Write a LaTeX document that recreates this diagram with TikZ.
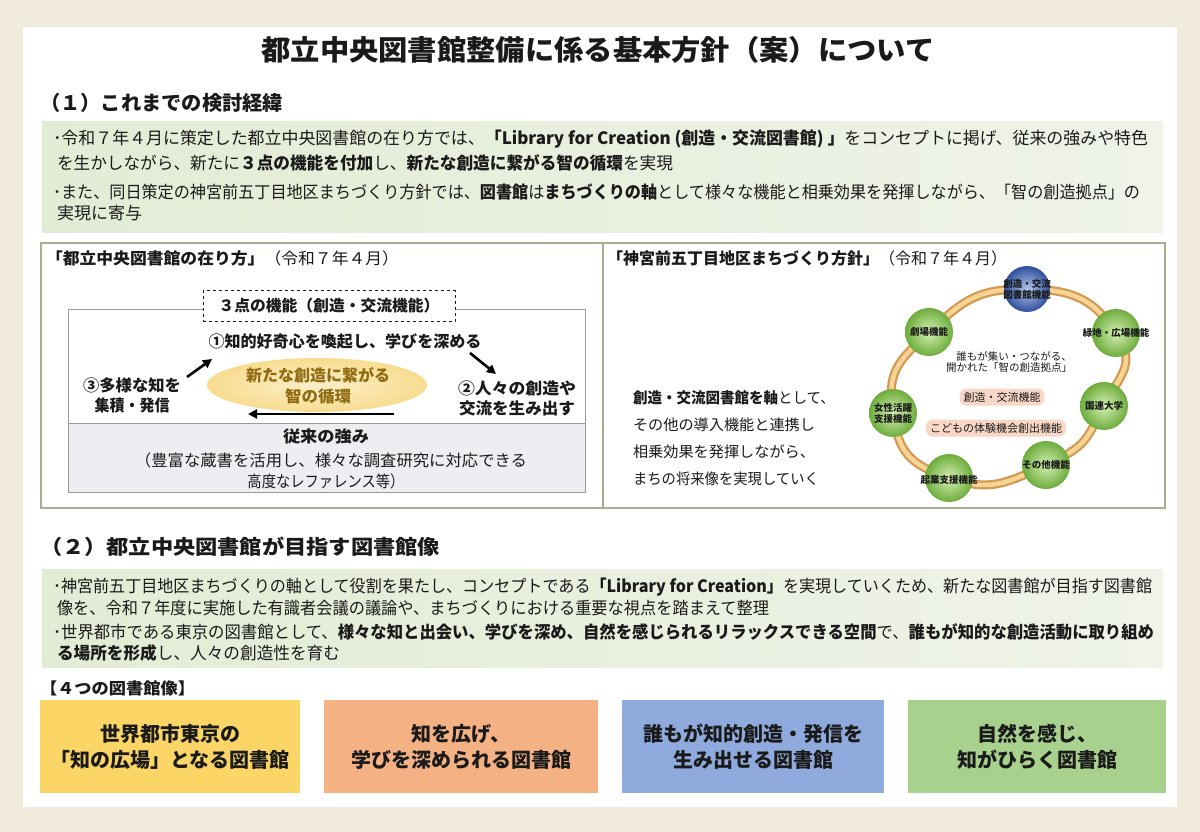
\documentclass[tikz,border=0pt]{standalone}
\usepackage{fontspec}
\setmainfont{Noto Sans CJK JP}
\usepackage{graphicx}
\usetikzlibrary{arrows.meta,calc}

\definecolor{bgbeige}{HTML}{F0EBDD}
\definecolor{boxgreenL}{HTML}{E2ECD5}
\definecolor{boxgreenR}{HTML}{EFF3E8}
\definecolor{panelborder}{HTML}{A9AC8E}
\definecolor{innerborder}{HTML}{9A9A9A}
\definecolor{lowerfill}{HTML}{EEEDF2}
\definecolor{txt}{HTML}{1A1A1A}
\definecolor{gold}{HTML}{8F6C12}
\definecolor{glow}{HTML}{F4C64A}
\definecolor{ringdark}{HTML}{D39A55}
\definecolor{ringlight}{HTML}{F8D494}
\definecolor{greenin}{HTML}{D6F0B4}
\definecolor{greenout}{HTML}{6DAC3C}
\definecolor{bluein}{HTML}{B3C7EC}
\definecolor{blueout}{HTML}{2F4F9C}
\definecolor{pill}{HTML}{F8D7C6}
\definecolor{cardY}{HTML}{FBD566}
\definecolor{cardO}{HTML}{F4B183}
\definecolor{cardB}{HTML}{8FAADC}
\definecolor{cardG}{HTML}{A9D18E}

\pgfdeclareradialshading{glowshade}{\pgfpoint{0bp}{0bp}}{color(0bp)=(glow!30); color(20bp)=(glow!55); color(34bp)=(glow!75); color(43bp)=(glow!35); color(50bp)=(white); color(100bp)=(white)}

\newcommand{\fitto}[2]{\resizebox{#1pt}{\height}{#2}}
\newcommand{\fsz}[1]{\fontsize{#1pt}{#1pt}\selectfont}

\tikzset{
  bodyline/.style={anchor=west, font=\fsz{17}},
  headline/.style={anchor=west, font=\fsz{20}\bfseries},
  arrowst/.style={line width=2.6pt, -{Triangle[length=9pt,width=9pt]}},
  ringnode/.style={circle, minimum size=48pt, inner color=greenin, outer color=greenout},
  hubnode/.style={circle, minimum size=46pt, inner color=bluein, outer color=blueout},
  ringlabel/.style={font=\fontsize{9.5pt}{11pt}\selectfont\bfseries, align=center},
  pillnode/.style={fill=pill, rounded corners=7pt, inner xsep=4pt, minimum height=17pt, font=\fsz{11}},
  card/.style={align=center, font=\fontsize{20pt}{26pt}\selectfont\bfseries, minimum height=93pt},
}

\begin{document}
\begin{tikzpicture}[x=1pt,y=-1pt, every node/.style={inner sep=0pt,outer sep=0pt,text=txt}]
\fill[bgbeige] (0,0) rectangle (1200,832);
\useasboundingbox (0,0) rectangle (1200,832);
\fill[white] (23,27) rectangle (1177,807);

% title
\node[font=\fsz{28}\bfseries] (title) at (598,50) {\fitto{673}{都立中央図書館整備に係る基本方針（案）について}};

% section 1
\node[headline] (h1) at (40,103) {\fitto{243}{（１）これまでの検討経緯}};
\shade[left color=boxgreenL,right color=boxgreenR] (42,122) rectangle (1163,232);
\node[bodyline] (s1l1) at (53,139) {\fitto{1095}{･令和７年４月に策定した都立中央図書館の在り方では、{\bfseries「Library for Creation (創造・交流図書館) 」}をコンセプトに掲げ、従来の強みや特色}};
\node[bodyline] (s1l2) at (57,163) {\fitto{616}{を生かしながら、新たに{\bfseries ３点の機能を付加}し、{\bfseries 新たな創造に繋がる智の循環}を実現}};
\node[bodyline] (s1l3) at (53,192) {\fitto{1087}{･また、同日策定の神宮前五丁目地区まちづくり方針では、{\bfseries 図書館}は{\bfseries まちづくりの軸}として様々な機能と相乗効果を発揮しながら、「智の創造拠点」の}};
\node[bodyline] (s1l4) at (57,213) {\fitto{85}{実現に寄与}};

% panels
\draw[panelborder, line width=1.2pt] (41,243) rectangle (603,508);
\draw[panelborder, line width=1.2pt] (603,243) rectangle (1165,508);

% left panel
\node[anchor=west, font=\fsz{16}] (lt) at (46,258) {\fitto{353}{{\bfseries「都立中央図書館の在り方」}（令和７年４月）}};
\draw[innerborder, fill=white, line width=1pt] (68,309) rectangle (585,423);
\draw[innerborder, fill=lowerfill, line width=1pt] (68,423) rectangle (585,492);
\node[draw=txt, dashed, fill=white, minimum width=252pt, minimum height=31pt, font=\fsz{15.5}\bfseries] (fn) at (329,306) {\fitto{221}{３点の機能（創造・交流機能）}};

\shade[shading=glowshade] (317,385) ellipse [x radius=110, y radius=27];
\node[font=\fsz{16}\bfseries, text=gold] (g1) at (318,375) {\fitto{144}{新たな創造に繋がる}};
\node[font=\fsz{16}\bfseries, text=gold] (g2) at (318,396) {\fitto{66}{智の循環}};

\node[font=\fsz{16}\bfseries] (f1) at (345,341) {\fitto{273}{①知的好奇心を喚起し、学びを深める}};
\node[font=\fsz{16}\bfseries] (f3a) at (132,385) {\fitto{98}{③多様な知を}};
\node[font=\fsz{16}\bfseries] (f3b) at (132,405) {\fitto{75}{集積・発信}};
\node[font=\fsz{16}\bfseries] (f2a) at (517,388) {\fitto{118}{②人々の創造や}};
\node[font=\fsz{16}\bfseries] (f2b) at (517,408) {\fitto{116}{交流を生み出す}};

\coordinate (a3s) at (187,377);
\coordinate (a3e) at (212,359);
\coordinate (a1s) at (470,353);
\coordinate (a1e) at (496,374);
\coordinate (abs) at (394,414);
\coordinate (abe) at (248,414);
\draw[arrowst] (a3s) -- (a3e);
\draw[arrowst] (a1s) -- (a1e);
\draw[arrowst] (abs) -- (abe);

\node[font=\fsz{16}\bfseries] (str) at (326,436) {\fitto{86}{従来の強み}};
\node[font=\fsz{16}] (str2) at (331,460) {\fitto{392}{（豊富な蔵書を活用し、様々な調査研究に対応できる}};
\node[font=\fsz{16}] (str3) at (326,481) {\fitto{157}{高度なレファレンス等）}};

% right panel
\node[anchor=west, font=\fsz{16}] (rt) at (607,258) {\fitto{400}{{\bfseries「神宮前五丁目地区まちづくり方針」}（令和７年４月）}};
\node[anchor=west, font=\fsz{15}] (rl1) at (633,398) {\fitto{202}{{\bfseries 創造・交流図書館を軸}として、}};
\node[anchor=west, font=\fsz{15}] (rl2) at (633,425) {\fitto{182}{その他の導入機能と連携し}};
\node[anchor=west, font=\fsz{15}] (rl3) at (633,452) {\fitto{182}{相乗効果を発揮しながら、}};
\node[anchor=west, font=\fsz{15}] (rl4) at (633,479) {\fitto{186}{まちの将来像を実現していく}};

\coordinate (p1) at (1027,289);
\coordinate (p2) at (1116,333);
\coordinate (p3) at (1104,406);
\coordinate (p4) at (1046,465);
\coordinate (p5) at (949,478);
\coordinate (p6) at (893,413);
\coordinate (p7) at (929,332);
\draw[ringdark, line width=9pt] plot[smooth cycle, tension=0.95] coordinates {(p1) (p2) (p3) (p4) (p5) (p6) (p7)};
\draw[ringlight, line width=4.5pt] plot[smooth cycle, tension=0.95] coordinates {(p1) (p2) (p3) (p4) (p5) (p6) (p7)};

\node[hubnode] (n1) at (p1) {};
\node[ringnode] (n2) at (p2) {};
\node[ringnode] (n3) at (p3) {};
\node[ringnode] (n4) at (p4) {};
\node[ringnode] (n5) at (p5) {};
\node[ringnode] (n6) at (p6) {};
\node[ringnode] (n7) at (p7) {};
\node[ringlabel] (t1) at (n1) {創造・交流\\図書館機能};
\node[ringlabel] (t2) at (n2) {緑地・広場機能};
\node[ringlabel] (t3) at (n3) {国連大学};
\node[ringlabel] (t4) at (n4) {その他機能};
\node[ringlabel] (t5) at ($(n5)+(0,2)$) {起業支援機能};
\node[ringlabel] (t6) at (n6) {女性活躍\\支援機能};
\node[ringlabel] (t7) at (n7) {劇場機能};

\node[font=\fsz{10.5}] (c1) at (1014,356) {誰もが集い・つながる、};
\node[font=\fsz{10.5}] (c2) at (1009,368) {開かれた「智の創造拠点」};
\node[pillnode] (pl1) at (1002,397) {創造・交流機能};
\node[pillnode] (pl2) at (996,428) {こどもの体験機会創出機能};

% section 2
\node[headline] (h2) at (40,547) {\fitto{400}{（２）都立中央図書館が目指す図書館像}};
\shade[left color=boxgreenL,right color=boxgreenR] (42,569) rectangle (1163,667);
\node[bodyline] (s2l1) at (53,587) {\fitto{1099}{･神宮前五丁目地区まちづくりの軸として役割を果たし、コンセプトである{\bfseries「Library for Creation」}を実現していくため、新たな図書館が目指す図書館}};
\node[bodyline] (s2l2) at (57,608) {\fitto{712}{像を、令和７年度に実施した有識者会議の議論や、まちづくりにおける重要な視点を踏まえて整理}};
\node[bodyline] (s2l3) at (53,632) {\fitto{1101}{･世界都市である東京の図書館として、{\bfseries 様々な知と出会い、学びを深め、自然を感じられるリラックスできる空間}で、{\bfseries 誰もが知的な創造活動に取り組め}}};
\node[bodyline] (s2l4) at (57,653) {\fitto{283}{{\bfseries る場所を形成}し、人々の創造性を育む}};

\node[anchor=west, font=\fsz{16}\bfseries] (h3) at (40,688) {\fitto{155}{【４つの図書館像】}};

\node[card, fill=cardY, minimum width=260pt] (k1) at (170,746.5) {世界都市東京の\\「知の広場」となる図書館};
\node[card, fill=cardO, minimum width=274pt] (k2) at (461,746.5) {知を広げ、\\学びを深められる図書館};
\node[card, fill=cardB, minimum width=262pt] (k3) at (753,746.5) {誰もが知的創造・発信を\\生み出せる図書館};
\node[card, fill=cardG, minimum width=258pt] (k4) at (1037,746.5) {自然を感じ、\\知がひらく図書館};
\end{tikzpicture}
\end{document}
